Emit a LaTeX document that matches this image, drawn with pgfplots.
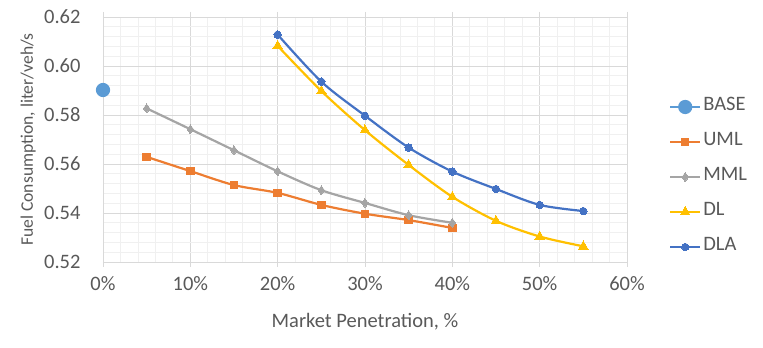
\documentclass[border=0pt]{standalone}
\usepackage{pgfplots}
\pgfplotsset{compat=1.18}
\usepackage{fontspec}
\setmainfont{Carlito}

\definecolor{txt}{HTML}{595959}
\definecolor{gridmaj}{HTML}{D9D9D9}
\definecolor{gridmin}{HTML}{F0F0F0}
\definecolor{cBase}{HTML}{5B9BD5}
\definecolor{cUml}{HTML}{ED7D31}
\definecolor{cMml}{HTML}{A5A5A5}
\definecolor{cDl}{HTML}{FFC000}
\definecolor{cDla}{HTML}{4472C4}

\begin{document}
\begin{tikzpicture}[font=\fontsize{20.5}{24}\selectfont]
\path[use as bounding box] (0,0) rectangle (763pt,348pt);
\begin{axis}[
    at={(103pt,86pt)}, anchor=south west,
    scale only axis,
    width=524pt, height=245pt,
    xmin=0, xmax=60, ymin=0.52, ymax=0.62,
    xtick={0,10,...,60},
    xticklabels={0\%,10\%,20\%,30\%,40\%,50\%,60\%},
    ytick={0.52,0.54,...,0.621},
    yticklabel style={/pgf/number format/fixed, /pgf/number format/fixed zerofill,
        /pgf/number format/precision=2, xshift=-14pt},
    /pgf/number format/assume math mode=true,
    minor tick num=4,
    grid=both,
    major grid style={draw=gridmaj, line width=0.8pt},
    minor grid style={draw=gridmin, line width=0.8pt},
    axis line style={draw=gridmaj, line width=0.8pt},
    tick align=outside,
    major tick length=5pt, minor tick length=0pt,
    xtick style={draw=gridmaj, line width=0.8pt},
    ytick style={draw=none},
    tick label style={text=txt},
    xticklabel style={yshift=-6pt},
    xlabel={Market Penetration, \%},
    ylabel={Fuel Consumption, liter/veh/s},
    label style={text=txt},
    xlabel style={at={(axis description cs:0.5,-0.245)}, anchor=center},
    ylabel style={at={(axis description cs:-0.143,0.5)}, anchor=center, font=\fontsize{17.6}{21}\selectfont},
    clip=false,
    legend cell align=left,
    legend style={draw=none, fill=none, at={(axis description cs:1.08,0.347)}, anchor=west,
        inner sep=0pt, row sep=18pt, text=txt,
        nodes={text height=10pt, text depth=3pt, inner sep=2pt}},
    legend image code/.code={\draw[mark repeat=2,mark phase=2] plot coordinates {(0pt,0pt) (15pt,0pt) (30pt,0pt)};},
    every axis plot/.append style={line width=2.2pt},
]
\addplot[cBase, mark=*, mark size=6pt, mark options={fill=cBase, draw=cBase}] coordinates {(0,0.5902)};
\addlegendentry{BASE}
\addplot[cUml, smooth, mark=square*, mark size=3.7pt, mark options={fill=cUml, draw=cUml, line width=0pt}] coordinates {
    (5,0.5629) (10,0.5571) (15,0.5514) (20,0.5482) (25,0.5433) (30,0.5397) (35,0.5371) (40,0.5339)};
\addlegendentry{UML}
\addplot[cMml, smooth, mark=diamond*, mark size=4.4pt, mark options={fill=cMml, draw=cMml, line width=0pt}] coordinates {
    (5,0.5827) (10,0.5742) (15,0.5656) (20,0.5570) (25,0.5493) (30,0.5441) (35,0.5391) (40,0.5360)};
\addlegendentry{MML}
\addplot[cDl, smooth, mark=triangle*, mark size=5.4pt, mark options={fill=cDl, draw=cDl, line width=0pt}] coordinates {
    (20,0.6082) (25,0.5898) (30,0.5738) (35,0.5596) (40,0.5466) (45,0.5368) (50,0.5304) (55,0.5264)};
\addlegendentry{DL}
\addplot[cDla, smooth, mark=*, mark size=3.7pt, mark options={fill=cDla, draw=cDla, line width=0pt}] coordinates {
    (20,0.6128) (25,0.5936) (30,0.5797) (35,0.5667) (40,0.5569) (45,0.5498) (50,0.5433) (55,0.5408)};
\addlegendentry{DLA}
\end{axis}
\end{tikzpicture}
\end{document}
